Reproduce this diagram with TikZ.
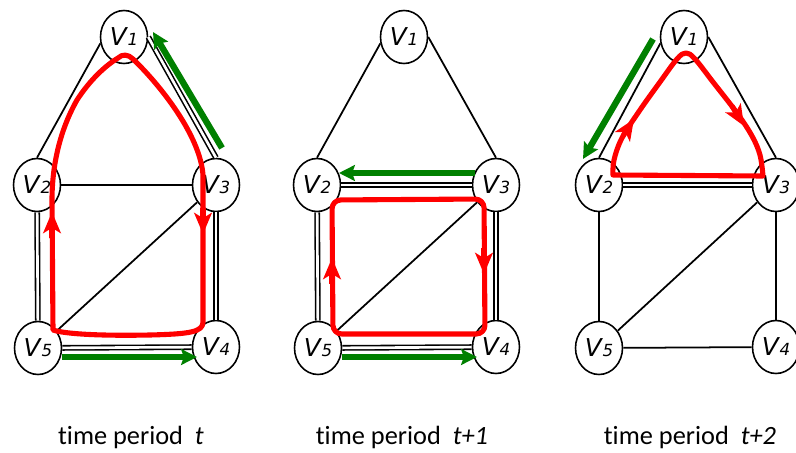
\documentclass[tikz,border=0pt]{standalone}
\usepackage{fontspec}
\setmainfont{Carlito}[Ligatures=NoCommon]
\newfontfamily\vfont{DejaVu Sans}
\usetikzlibrary{arrows.meta,shapes.geometric}
\def\vl#1{V\kern0.6pt{\fontsize{9.5}{9.5}\selectfont #1}}
\tikzset{
	vtx/.style={draw, ellipse, fill=white, line width=0.9pt, inner sep=0pt,
		minimum width=0.94cm, minimum height=1.06cm,
		font=\vfont\itshape\fontsize{14}{14}\selectfont},
	edge/.style={line width=1pt},
	dbl/.style={line width=0.9pt, double, double distance=1.5pt},
	cyc/.style={line width=2.9pt, color=red, line join=round},
	cyctip/.style={cyc, -{Stealth[length=12pt,width=10pt,inset=3pt]}},
	flow/.style={line width=3.6pt, color=green!50!black, -{Stealth[length=9pt,width=9pt,inset=1.5pt]}},
	caption/.style={anchor=base, font=\fontsize{15}{18}\selectfont}
}

\begin{document}
\begin{tikzpicture}[x=0.02cm, y=-0.02cm]
		%%%%% START %%%%%
		\useasboundingbox (0,0) rectangle (796,453);
		
		% period t
		\node[vtx] (a1) at (124,37) {\vl1};
		\node[vtx] (a2) at (37,185) {\vl2};
		\node[vtx] (a3) at (216,185) {\vl3};
		\node[vtx] (a4) at (216,347) {\vl4};
		\node[vtx] (a5) at (38,348) {\vl5};
		
		\draw[edge] (a1.195) -- (a2.north);
		\draw[dbl] (a1.east) -- (a3.north);
		\draw[edge] (a2) -- (a3);
		\draw[dbl] (a2) -- (a5);
		\draw[dbl] (a3) -- (a4);
		\draw[edge] (a3) -- (a5);
		\draw[dbl] (a5) -- (a4);
		
		\draw[cyc] (53,330) -- (52,200) .. controls (52,165) and (60,130) .. (77,100)
			.. controls (90,80) and (105,66) .. (118,58)
			.. controls (122,54) and (128,54) .. (133,59) .. controls (160,85) and (200,135) .. (203,175)
			-- (203,322) .. controls (203,332) and (190,334) .. (150,335)
			.. controls (100,336) and (65,334) .. cycle;
		\draw[cyctip] (52,238) -- (52,212);
		\draw[cyctip] (203,208) -- (203,234);
		
		\coordinate (ga1) at (222,148);
		\coordinate (ga2) at (153,32);
		\coordinate (ga3) at (62,357);
		\coordinate (ga4) at (197,357);
		\draw[flow] (ga1) -- (ga2);
		\draw[flow] (ga3) -- (ga4);
		
		% period t+1
		\node[vtx] (b1) at (404,37) {\vl1};
		\node[vtx] (b2) at (317,185) {\vl2};
		\node[vtx] (b3) at (496,185) {\vl3};
		\node[vtx] (b4) at (496,347) {\vl4};
		\node[vtx] (b5) at (318,348) {\vl5};
		
		\draw[edge] (b1.195) -- (b2.north);
		\draw[edge] (b1.east) -- (b3.north);
		\draw[dbl] (b2) -- (b3);
		\draw[dbl] (b2) -- (b5);
		\draw[dbl] (b3) -- (b4);
		\draw[edge] (b3) -- (b5);
		\draw[dbl] (b5) -- (b4);
		
		\draw[cyc, rounded corners=5pt] (333,334) -- (332,200) -- (484,199) -- (485,334) -- cycle;
		\draw[cyctip] (332,284) -- (332,258);
		\draw[cyctip] (484,248) -- (484,274);
		
		\coordinate (gb1) at (475,173);
		\coordinate (gb2) at (339,173);
		\coordinate (gb3) at (342,357);
		\coordinate (gb4) at (477,357);
		\draw[flow] (gb1) -- (gb2);
		\draw[flow] (gb3) -- (gb4);
		
		% period t+2
		\node[vtx] (c1) at (684,37) {\vl1};
		\node[vtx] (c2) at (599,185) {\vl2};
		\node[vtx] (c3) at (776,185) {\vl3};
		\node[vtx] (c4) at (776,347) {\vl4};
		\node[vtx] (c5) at (599,348) {\vl5};
		
		\draw[edge] (c1.195) -- (c2.north);
		\draw[edge] (c1.east) -- (c3.north);
		\draw[dbl] (c2) -- (c3);
		\draw[edge] (c2) -- (c5);
		\draw[edge] (c3) -- (c4);
		\draw[edge] (c3) -- (c5);
		\draw[edge] (c5) -- (c4);
		
		\draw[cyc] plot[smooth, tension=0.6] coordinates {(613,175) (614,160) (622,138) (640,110)
			(660,82) (677,59) (686,53) (695,59) (713,82) (737,113) (752,136) (760,155) (763,176)} -- cycle;
		\draw[cyctip] (623,136) -- (634,119);
		\draw[cyctip] (732,106) -- (744,126);
		
		\coordinate (gc1) at (653,39);
		\coordinate (gc2) at (583,159);
		\draw[flow] (gc1) -- (gc2);
		
		% captions
		\node[caption] (ta) at (131,444) {time period\ \ \textit{t}};
		\node[caption] (tb) at (402,444) {time period\ \ \textit{t+1}};
		\node[caption] (tc) at (690,444) {time period\ \ \textit{t+2}};
		%%%%% END %%%%%
\end{tikzpicture}
\end{document}
